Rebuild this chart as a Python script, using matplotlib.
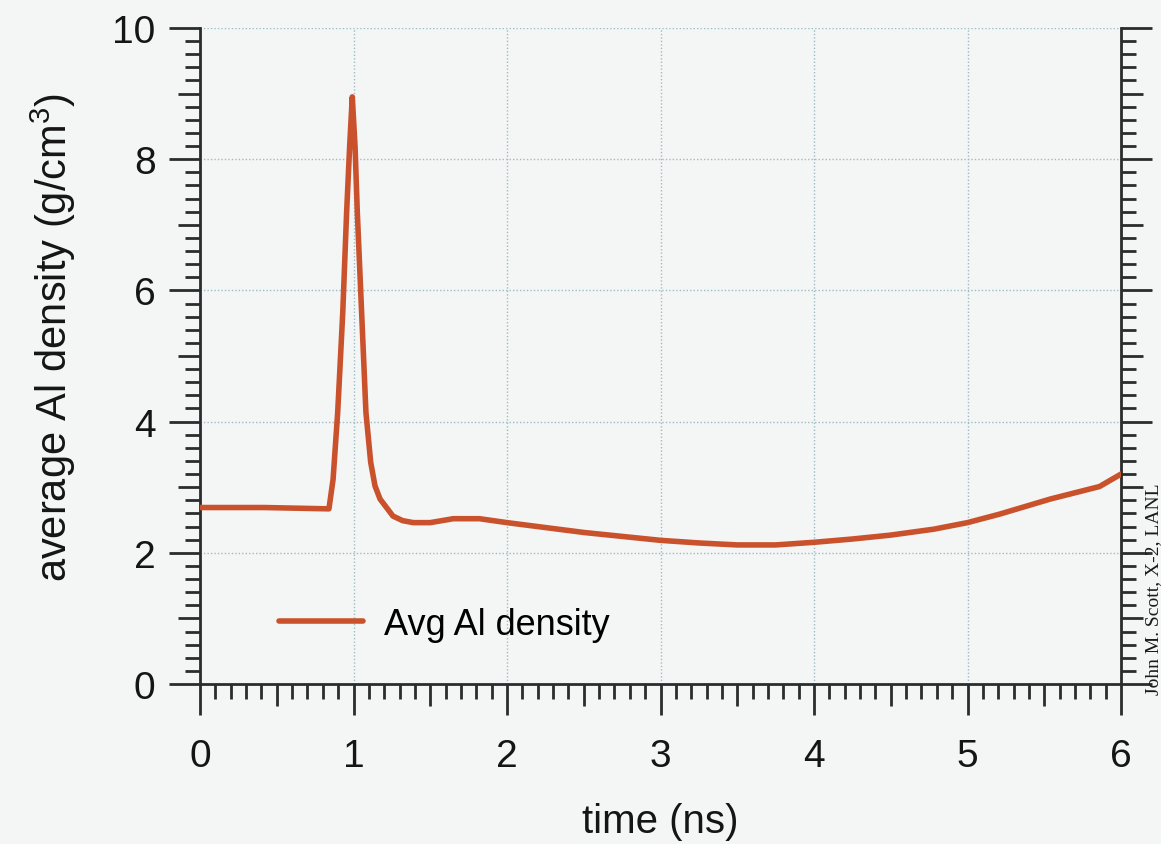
import matplotlib
matplotlib.use("Agg")
import matplotlib.pyplot as plt
from matplotlib.ticker import FixedLocator, NullFormatter

# Average aluminium density history
time_ns = [0.0, 0.42, 0.84, 0.867, 0.897, 0.93, 0.955, 0.975, 0.992, 1.01,
           1.025, 1.053, 1.081, 1.112, 1.14, 1.173, 1.257, 1.32, 1.39, 1.5, 1.65,
           1.82, 2.0, 2.5, 3.0, 3.25, 3.5, 3.75, 4.0, 4.25, 4.5, 4.78, 5.0,
           5.21, 5.54, 5.86, 6.0]
density = [2.69, 2.69, 2.67, 3.12, 4.14, 5.66, 7.18, 8.2, 8.95, 8.2,
           7.18, 5.66, 4.14, 3.38, 3.02, 2.82, 2.56, 2.49, 2.46, 2.46, 2.52,
           2.52, 2.46, 2.31, 2.19, 2.15, 2.12, 2.12, 2.16, 2.21, 2.27, 2.36, 2.46,
           2.59, 2.82, 3.01, 3.20]

x_major = [0, 1, 2, 3, 4, 5, 6]
y_major = [0, 2, 4, 6, 8, 10]

plt.rcParams['font.family'] = ['Liberation Sans', 'DejaVu Sans']
plt.rcParams['mathtext.fontset'] = 'custom'
plt.rcParams['mathtext.rm'] = 'Liberation Sans'
plt.rcParams['mathtext.it'] = 'Liberation Sans'

bg = '#f4f5f5'
ink = '#2a2d2d'
line_col = '#c9522c'

fig = plt.figure(figsize=(11.61, 8.45), dpi=100, facecolor=bg)
ax = fig.add_axes([200 / 1161, 1 - 685 / 845, 921 / 1161, 656 / 845])
ax.set_facecolor(bg)

ax.plot(time_ns, density, color=line_col, lw=4.0, solid_capstyle='round',
        solid_joinstyle='round', label='Avg Al density', zorder=3)

ax.set_xlim(0, 6)
ax.set_ylim(0, 10)

# grid
for xv in x_major[1:-1]:
    ax.axvline(xv, color='#9dbcc4', lw=1.0, ls=(0, (1, 1.5)), zorder=1)
for yv in y_major[1:]:
    ax.axhline(yv, color='#9dbcc4', lw=1.0, ls=(0, (1, 1.5)), zorder=1)

# spines
for side in ('left', 'right', 'bottom'):
    ax.spines[side].set_color(ink)
    ax.spines[side].set_linewidth(2.0)
ax.spines['top'].set_visible(False)

# ticks
ax.xaxis.set_major_locator(FixedLocator(x_major))
ax.yaxis.set_major_locator(FixedLocator(y_major))
x_minor = [round(i * 0.1, 2) for i in range(61) if i % 10 != 0]
y_minor = [round(i * 0.2, 2) for i in range(51) if i % 10 != 0]
ax.xaxis.set_minor_locator(FixedLocator(x_minor))
ax.yaxis.set_minor_locator(FixedLocator(y_minor))
ax.xaxis.set_minor_formatter(NullFormatter())
ax.yaxis.set_minor_formatter(NullFormatter())

ax.tick_params(axis='x', which='both', direction='out', top=False, bottom=True,
               color=ink, width=2.0)
ax.tick_params(axis='y', which='both', direction='out', left=True, right=True,
               color=ink, width=2.0)
ax.tick_params(which='major', length=22)
ax.tick_params(which='minor', length=11)
ax.tick_params(axis='x', which='major', pad=17, labelsize=28, labelcolor='#151515')
ax.tick_params(axis='y', which='major', pad=10, labelsize=28, labelcolor='#151515')

# medium ticks at half / odd positions
xt = ax.xaxis.get_minor_ticks(len(x_minor))
for t, loc in zip(xt, x_minor):
    if abs(loc * 2 - round(loc * 2)) < 1e-6:
        t.tick1line.set_markersize(16)
yt = ax.yaxis.get_minor_ticks(len(y_minor))
for t, loc in zip(yt, y_minor):
    if abs(loc - round(loc)) < 1e-6:
        t.tick1line.set_markersize(16)
        t.tick2line.set_markersize(16)

ax.set_xlabel('time (ns)', fontsize=29, labelpad=20, color='#151515')
ax.set_ylabel(r'average Al density (g/cm$^{3}$)', fontsize=30, color='#151515')
ax.yaxis.set_label_coords(-0.1325, 0.53)

ax.legend(loc='lower left', bbox_to_anchor=(0.051, 0.015), frameon=False,
          fontsize=26, handlelength=2.3, handletextpad=0.6)

fig.text(1154 / 1161, 1 - 589 / 845, 'John M. Scott, X-2, LANL', rotation=90,
         family=['Liberation Serif', 'DejaVu Serif'], fontsize=14,
         color='#1a1a1a', ha='center', va='center')

fig.savefig('out.png', dpi=100, facecolor=bg)
